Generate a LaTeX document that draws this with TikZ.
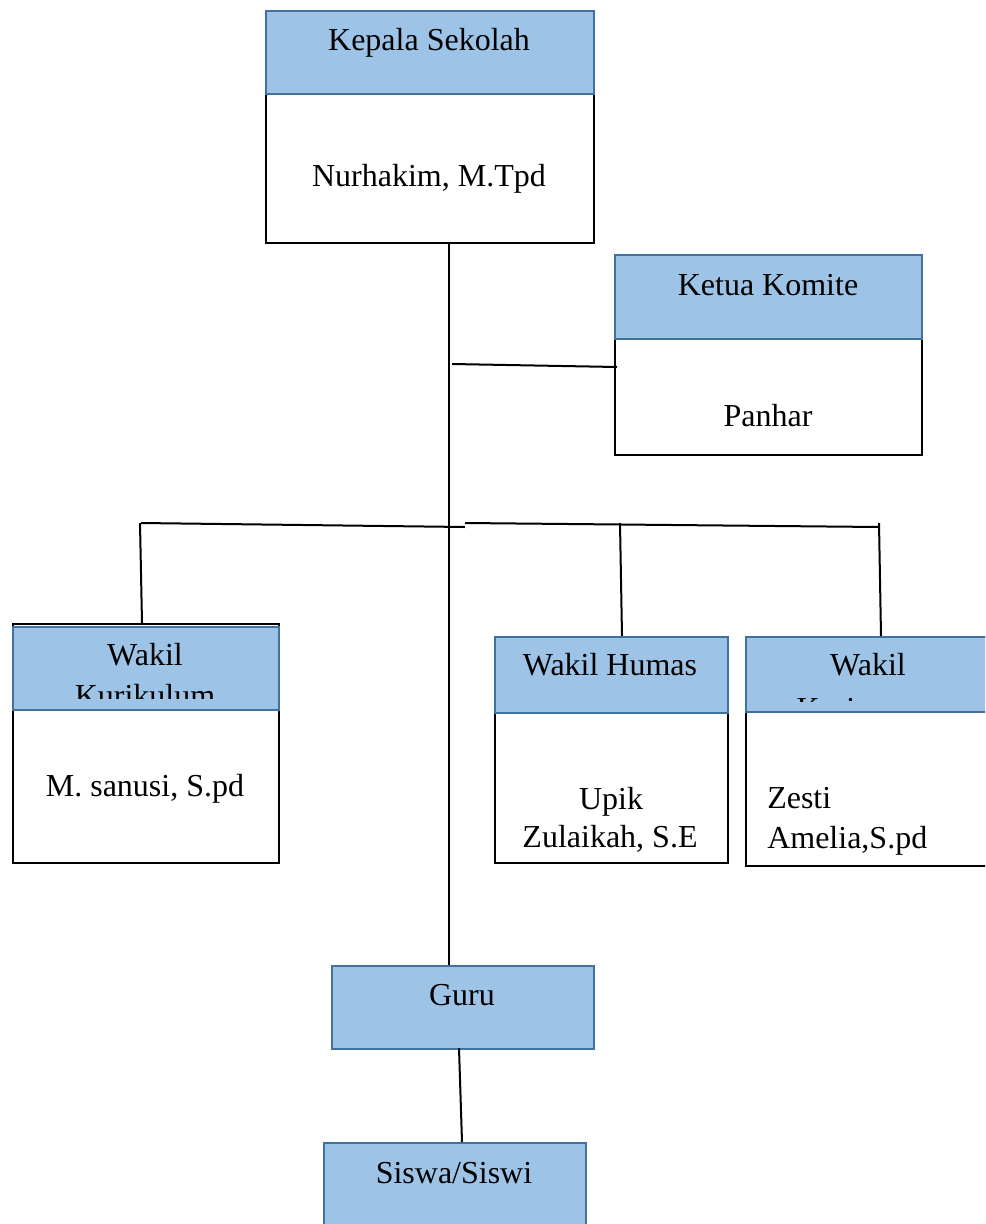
\documentclass[tikz,border=0pt]{standalone}
\usepackage{fontspec}
\setmainfont{Liberation Serif}
\definecolor{hdrfill}{HTML}{9DC3E6}
\definecolor{hdrline}{HTML}{41719C}
\tikzset{
  boxw/.style={draw=black, line width=1.8pt, fill=white, anchor=north west, inner sep=0pt},
  boxh/.style={draw=hdrline, line width=1.8pt, fill=hdrfill, anchor=north west, inner sep=0pt},
  lbl/.style={font=\fontsize{24}{28}\selectfont, inner sep=0pt, anchor=base},
  lbll/.style={font=\fontsize{24}{28}\selectfont, inner sep=0pt, anchor=base west},
  conn/.style={line width=1.5pt, black},
}
\begin{document}
\begin{tikzpicture}[x=0.75pt, y=-0.75pt]
\clip (0,0) rectangle (985,1224);
\fill[white] (0,0) rectangle (985,1224);
% Kepala Sekolah
\node[boxw, minimum width=328*0.75pt, minimum height=232*0.75pt] (ks) at (265,10) {};
\node[boxh, minimum width=328*0.75pt, minimum height=83*0.75pt] (ksh) at (265,10) {};
\node[lbl] (kst) at (429,50) {Kepala Sekolah};
\node[lbl] (ksn) at (429,186) {Nurhakim, M.Tpd};
% Ketua Komite
\node[boxw, minimum width=307*0.75pt, minimum height=200*0.75pt] (kk) at (614,254) {};
\node[boxh, minimum width=307*0.75pt, minimum height=84*0.75pt] (kkh) at (614,254) {};
\node[lbl] (kkt) at (768,295) {Ketua Komite};
\node[lbl] (kkn) at (768,426) {Panhar};
% Wakil Kurikulum
\node[boxw, minimum width=266*0.75pt, minimum height=239*0.75pt] (wk) at (12,623) {};
\node[boxh, minimum width=266*0.75pt, minimum height=83*0.75pt] (wkh) at (12,626) {};
\node[lbl] (wkt) at (145,665) {Wakil};
\begin{scope}
\clip (12,626) rectangle (278,698);
\node[lbl] (wkt2) at (145,706) {Kurikulum};
\end{scope}
\node[lbl] (wkn) at (145,796) {M. sanusi, S.pd};
% Wakil Humas
\node[boxw, minimum width=233*0.75pt, minimum height=226*0.75pt] (wh) at (494,636) {};
\node[boxh, minimum width=233*0.75pt, minimum height=76*0.75pt] (whh) at (494,636) {};
\node[lbl] (wht) at (610,675) {Wakil Humas};
\node[lbl] (whn1) at (611,809) {Upik};
\node[lbl] (whn2) at (610,847) {Zulaikah, S.E};
% Wakil Kesiswaan
\node[boxw, minimum width=260*0.75pt, minimum height=229*0.75pt] (ws) at (745,636) {};
\node[boxh, minimum width=260*0.75pt, minimum height=75*0.75pt] (wsh) at (745,636) {};
\node[lbl] (wst) at (868,675) {Wakil};
\begin{scope}
\clip (745,636) rectangle (985,701);
\node[lbl] (wst2) at (866,719) {Kesiswaan};
\end{scope}
\node[lbll] (wsn1) at (767,808) {Zesti};
\node[lbll] (wsn2) at (767,848) {Amelia,S.pd};
% Guru
\node[boxh, minimum width=262*0.75pt, minimum height=83*0.75pt] (guru) at (331,965) {};
\node[lbl] (gurut) at (462,1005) {Guru};
% Siswa
\node[boxh, minimum width=262*0.75pt, minimum height=100*0.75pt] (siswa) at (323,1142) {};
\node[lbl] (siswat) at (454,1183) {Siswa/Siswi};
% connectors
\coordinate (c1) at (449,242);
\coordinate (c2) at (449,965);
\coordinate (kj) at (452,364);
\coordinate (kk1) at (617,367);
\coordinate (hl) at (141,523);
\coordinate (hm) at (465,527);
\coordinate (hm2) at (465,523);
\coordinate (hr) at (879,527);
\coordinate (v1a) at (140,523);
\coordinate (v1b) at (142,623);
\coordinate (v2a) at (620,523);
\coordinate (v2b) at (622,636);
\coordinate (v3a) at (879,523);
\coordinate (v3b) at (881,636);
\coordinate (g1) at (459,1048);
\coordinate (s1) at (462,1142);
\draw[conn] (c1) -- (c2);
\draw[conn] (kj) -- (kk1);
\draw[conn] (hl) -- (hm);
\draw[conn] (hm2) -- (hr);
\draw[conn] (v1a) -- (v1b);
\draw[conn] (v2a) -- (v2b);
\draw[conn] (v3a) -- (v3b);
\draw[conn] (g1) -- (s1);
\end{tikzpicture}
\end{document}
